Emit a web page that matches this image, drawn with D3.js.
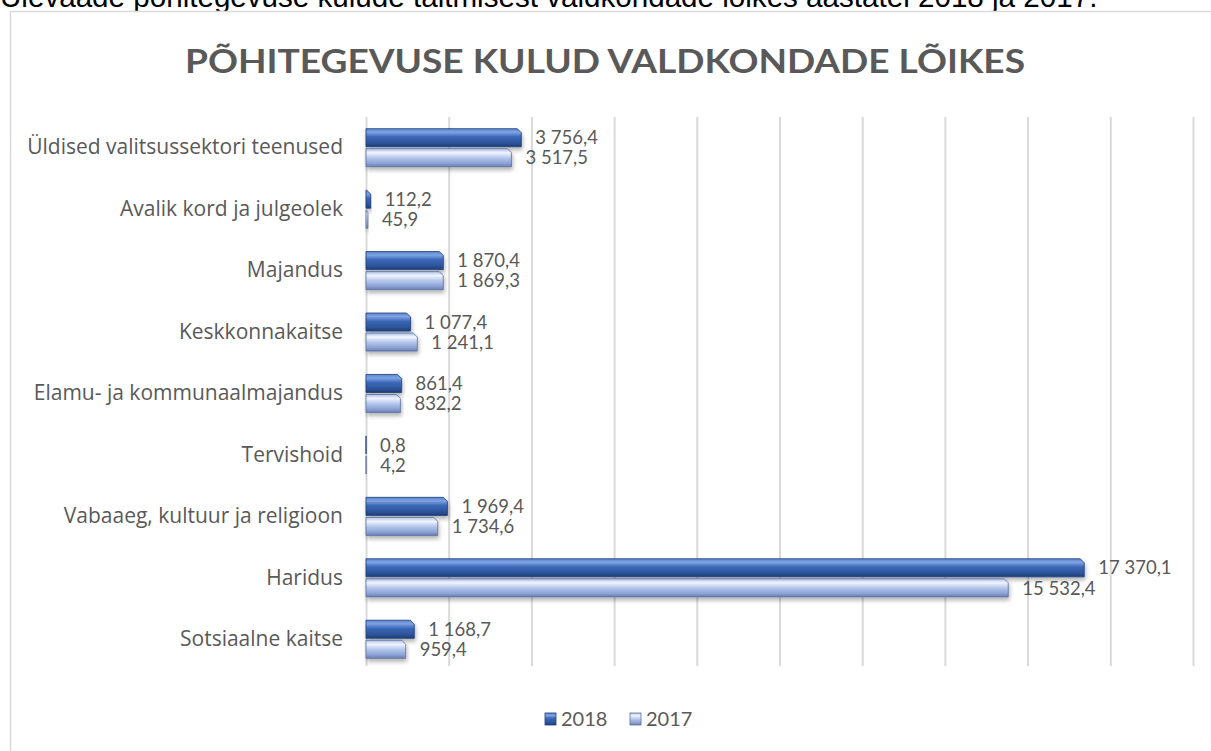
<!DOCTYPE html>
<html>
<head>
<meta charset="utf-8">
<script src="https://cdn.jsdelivr.net/npm/d3@7"></script>
<style>
  body { margin: 0; background: #fff; }
  svg text { font-family: Lato, "Open Sans", sans-serif; }
</style>
</head>
<body>
<div id="chartDiv"></div>
<script>
// categories and values (tuh eurot)
var categories = ["Üldised valitsussektori teenused", "Avalik kord ja julgeolek", "Majandus",
  "Keskkonnakaitse", "Elamu- ja kommunaalmajandus", "Tervishoid",
  "Vabaaeg, kultuur ja religioon", "Haridus", "Sotsiaalne kaitse"];
var values2018 = [3756.4, 112.2, 1870.4, 1077.4, 861.4, 0.8, 1969.4, 17370.1, 1168.7];
var values2017 = [3517.5, 45.9, 1869.3, 1241.1, 832.2, 4.2, 1734.6, 15532.4, 959.4];
var seriesNames = ["2018", "2017"];
var xTicks = [0, 2000, 4000, 6000, 8000, 10000, 12000, 14000, 16000, 18000, 20000];

function chartInit() {
  var width = 1211, height = 751;
  var margin = {top: 117, right: 18, bottom: 81, left: 366};
  var w = width - margin.left - margin.right,
      h = height - margin.top - margin.bottom;

  var svg = d3.select("#chartDiv").append("svg")
    .attr("width", width).attr("height", height);

  // gradients for the bevelled bars
  var defs = svg.append("defs");
  function grad(id, stops) {
    var g = defs.append("linearGradient").attr("id", id)
      .attr("x1", 0).attr("y1", 0).attr("x2", 0).attr("y2", 1);
    stops.forEach(function(s) {
      g.append("stop").attr("offset", s[0]).attr("stop-color", s[1]);
    });
  }
  grad("g2018", [[0, "#5b84cf"], [0.2, "#7fa3e3"], [0.45, "#3c68b8"], [0.8, "#2c5398"], [1, "#1f3d75"]]);
  grad("g2017", [[0, "#aebfe6"], [0.22, "#f0f5ff"], [0.5, "#b6c7ec"], [0.8, "#8da3d6"], [1, "#6a7fb0"]]);
  var shadow = defs.append("filter").attr("id", "shadow")
    .attr("x", "-5%").attr("y", "-30%").attr("width", "115%").attr("height", "190%");
  shadow.append("feDropShadow").attr("dx", 1).attr("dy", 3).attr("stdDeviation", 2)
    .attr("flood-color", "#000").attr("flood-opacity", 0.3);

  // caption above the chart box (cut off at top, as in the source page)
  svg.append("text")
    .attr("x", 0).attr("y", 7)
    .style("font-family", "'Liberation Sans', Arial, sans-serif")
    .style("font-size", "29.6px").attr("fill", "#000")
    .text("Ülevaade põhitegevuse kulude täitmisest valdkondade lõikes aastatel 2018 ja 2017.");

  // chart frame
  svg.append("rect")
    .attr("x", 10.5).attr("y", 11.5).attr("width", 1230).attr("height", 760)
    .attr("fill", "#fff").attr("stroke", "#d9d9d9").attr("stroke-width", 1.5);

  svg.append("text")
    .attr("x", 605).attr("y", 73)
    .attr("text-anchor", "middle")
    .attr("textLength", 840).attr("lengthAdjust", "spacingAndGlyphs")
    .style("font-size", "32px").style("font-weight", "bold")
    .attr("fill", "#595959")
    .text("PÕHITEGEVUSE KULUD VALDKONDADE LÕIKES");

  var g = svg.append("g")
    .attr("transform", "translate(" + margin.left + "," + margin.top + ")");

  var x = d3.scaleLinear().domain([0, 20000]).range([0, w]);
  var y = d3.scaleBand().domain(categories).range([0, h]).paddingInner(0.38).paddingOuter(0.19);
  var ySub = d3.scaleBand().domain(seriesNames).range([0, y.bandwidth()]).paddingInner(0.1);

  // gridlines
  g.append("g").attr("class", "grid")
    .call(d3.axisBottom(x).tickValues(xTicks).tickSize(h - 4).tickFormat(""))
    .call(function(a) {
      a.select(".domain").remove();
      a.selectAll("line").attr("stroke", "#d9d9d9").attr("stroke-width", 2);
    });

  // category axis
  g.append("g")
    .call(d3.axisLeft(y).tickSize(0).tickPadding(23))
    .call(function(a) {
      a.select(".domain").remove();
      a.selectAll("text").style("font-size", "21px").attr("fill", "#595959")
        .style("font-family", "'Open Sans', sans-serif");
    });

  var rows = categories.map(function(c, i) {
    return {cat: c, vals: [values2018[i], values2017[i]]};
  });

  var fmt = function(v) {
    return d3.format(",.1f")(v).replace(/,/g, " ").replace(".", ",");
  };

  var groups = g.selectAll(".row").data(rows).enter().append("g")
    .attr("class", "row")
    .attr("transform", function(d) { return "translate(0," + y(d.cat) + ")"; });

  groups.selectAll("path.bar")
    .data(function(d) { return d.vals.map(function(v, k) { return {k: seriesNames[k], v: v}; }); })
    .enter().append("path")
    .attr("class", "bar")
    .attr("filter", "url(#shadow)")
    .attr("fill", function(d) { return d.k === "2018" ? "url(#g2018)" : "url(#g2017)"; })
    .attr("stroke", function(d) { return d.k === "2018" ? "#1f3f7a" : "#5e709c"; })
    .attr("stroke-width", 0.8)
    .attr("d", function(d) {
      var x1 = x(d.v), y0 = ySub(d.k), bh = ySub.bandwidth();
      var bev = Math.min(4, x1);
      return "M0," + y0 + "H" + (x1 - bev) + "L" + x1 + "," + (y0 + bev) +
        "V" + (y0 + bh) + "H0Z";
    });

  groups.selectAll("text.val")
    .data(function(d) { return d.vals.map(function(v, k) { return {k: seriesNames[k], v: v}; }); })
    .enter().append("text")
    .attr("class", "val")
    .attr("x", function(d) { return x(d.v) + 14; })
    .attr("y", function(d) { return ySub(d.k) + ySub.bandwidth() / 2; })
    .attr("dy", "0.36em")
    .style("font-size", "18.5px").attr("fill", "#595959")
    .text(function(d) { return fmt(d.v); });

  // legend
  var legend = svg.append("g").attr("transform", "translate(545,719)");
  var lx = 0;
  seriesNames.forEach(function(s) {
    var item = legend.append("g").attr("transform", "translate(" + lx + ",0)");
    item.append("rect").attr("x", 0).attr("y", -6).attr("width", 11).attr("height", 12)
      .attr("fill", s === "2018" ? "url(#g2018)" : "url(#g2017)")
      .attr("stroke", s === "2018" ? "#1f3f7a" : "#5e709c").attr("stroke-width", 0.8);
    item.append("text").attr("x", 16).attr("y", 0).attr("dy", "0.36em")
      .style("font-size", "20px").attr("fill", "#595959").text(s);
    lx += 85;
  });
}

chartInit();
</script>
</body>
</html>
